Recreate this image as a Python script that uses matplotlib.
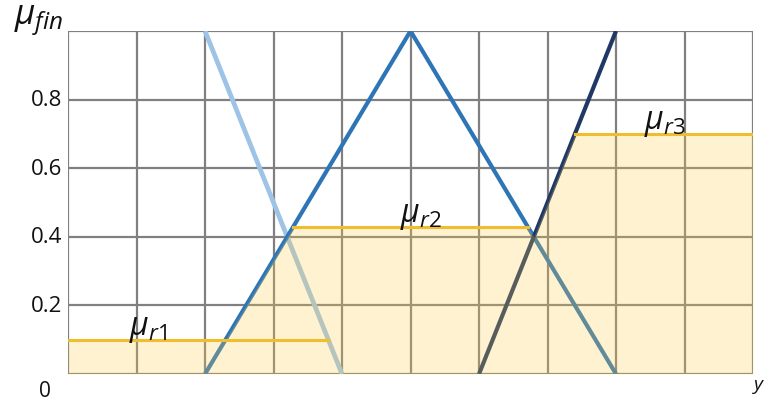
import numpy as np
import matplotlib
matplotlib.use("Agg")
import matplotlib.pyplot as plt

plt.rcParams['font.family'] = ['Open Sans', 'DejaVu Sans']
plt.rcParams['mathtext.fontset'] = 'custom'
plt.rcParams['mathtext.it'] = 'Open Sans:italic'
plt.rcParams['mathtext.rm'] = 'Open Sans'

# Output membership functions (breakpoints on the y axis)
mf1_x = [0, 2, 4, 10]
mf1_y = [1, 1, 0, 0]
mf2_x = [0, 2, 5, 8, 10]
mf2_y = [0, 0, 1, 0, 0]
mf3_x = [0, 6, 8, 10]
mf3_y = [0, 0, 1, 1]

# Rule activation levels
mu_r = [0.1, 0.43, 0.7]

y_ticks = [0.2, 0.4, 0.6, 0.8]

fig = plt.figure(figsize=(7.67, 4.02), dpi=100)
ax = fig.add_axes([68 / 767, 27 / 402, 685 / 767, 343 / 402])
ax.set_xlim(0, 10)
ax.set_ylim(0, 1)

grid_c = '#808080'
for xv in range(0, 11):
    ax.axvline(xv, color=grid_c, lw=1.6, zorder=1)
for yv in np.arange(0, 1.01, 0.2):
    ax.axhline(yv, color=grid_c, lw=1.6, zorder=1)
for s in ax.spines.values():
    s.set_visible(False)
ax.set_xticks([])
ax.set_yticks([])

# Sloped parts of the membership functions
ax.plot(mf1_x[1:3], mf1_y[1:3], color='#9DC3E6', lw=3.4, zorder=3, solid_capstyle='butt')
ax.plot(mf2_x[1:4], mf2_y[1:4], color='#2E75B6', lw=3.0, zorder=3, solid_capstyle='butt')
ax.plot(mf3_x[1:3], mf3_y[1:3], color='#203864', lw=3.0, zorder=3, solid_capstyle='butt')

# Aggregated (max of clipped) output
xs = np.linspace(0, 10, 2001)
m1 = np.minimum(np.interp(xs, mf1_x, mf1_y), mu_r[0])
m2 = np.minimum(np.interp(xs, mf2_x, mf2_y), mu_r[1])
m3 = np.minimum(np.interp(xs, mf3_x, mf3_y), mu_r[2])
agg = np.maximum(np.maximum(m1, m2), m3)
ax.fill_between(xs, 0, agg, color='#FFCD46', alpha=0.25, lw=0, zorder=4)

# Activation level lines
gold = '#F0BE2C'
x1_end = np.interp(mu_r[0], mf1_y[1:3][::-1], mf1_x[1:3][::-1])
x2_start = np.interp(mu_r[1], mf2_y[1:3], mf2_x[1:3])
x2_end = np.interp(mu_r[1], mf2_y[2:4][::-1], mf2_x[2:4][::-1])
x3_start = np.interp(mu_r[2], mf3_y[1:3], mf3_x[1:3])
ax.plot([0, x1_end], [mu_r[0]] * 2, color=gold, lw=2.2, zorder=5)
ax.plot([x2_start, x2_end], [mu_r[1]] * 2, color=gold, lw=2.2, zorder=5)
ax.plot([x3_start, 10], [mu_r[2]] * 2, color=gold, lw=2.2, zorder=5)

lab_kw = dict(fontsize=23, ha='center', va='bottom', zorder=6, color='#111111')
ax.text(1.17, mu_r[0] - 0.012, r'$\mu_{r1}$', **lab_kw)
ax.text(5.15, mu_r[1] - 0.012, r'$\mu_{r2}$', **lab_kw)
ax.text(8.72, mu_r[2] - 0.012, r'$\mu_{r3}$', **lab_kw)

# Axis annotations
for t in y_ticks:
    ax.text(-0.09, t, f'{t:.1f}', ha='right', va='center', fontsize=16, color='#111111')
ax.text(-0.33, -0.048, '0', ha='center', va='center', fontsize=15, color='#111111')
ax.text(-0.06, 0.98, r'$\mu_{fin}$', ha='right', va='bottom', fontsize=25, color='#111111')
ax.text(9.99, -0.035, r'$y$', ha='left', va='center', fontsize=14, color='#111111')

fig.savefig('out.png', dpi=100)
